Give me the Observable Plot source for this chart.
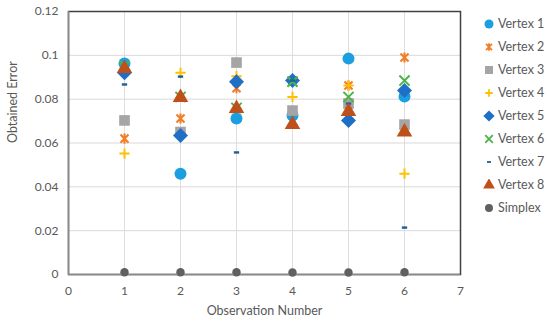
<!DOCTYPE html>
<html>
<head>
<meta charset="utf-8">
<script src="https://cdn.jsdelivr.net/npm/d3@7"></script>
<script src="https://cdn.jsdelivr.net/npm/@observablehq/plot@0.6"></script>
<style>
  html, body { margin: 0; padding: 0; background: #fff; }
  #wrap { position: relative; width: 550px; height: 324px; font-family: Lato, "Open Sans", sans-serif; }
  #legend { position: absolute; left: 483px; top: 12px; font-size: 12.5px; color: #595959; }
  .li { display: flex; align-items: center; height: 23px; }
  .li svg { width: 12px; height: 12px; margin-right: 3px; }
</style>
</head>
<body>
<div id="wrap"><div id="chart"></div><div id="legend"></div></div>
<script>
const observations = [1, 2, 3, 4, 5, 6];
const vertex1 = [0.0963, 0.0460, 0.0712, 0.0725, 0.0985, 0.0812];
const vertex2 = [0.0620, 0.0712, 0.0850, 0.0885, 0.0862, 0.0990];
const vertex3 = [0.0703, 0.0650, 0.0967, 0.0748, 0.0780, 0.0684];
const vertex4 = [0.0552, 0.0920, 0.0905, 0.0810, 0.0862, 0.0460];
const vertex5 = [0.0920, 0.0634, 0.0880, 0.0885, 0.0703, 0.0840];
const vertex6 = [0.0950, 0.0810, 0.0760, 0.0880, 0.0810, 0.0885];
const vertex7 = [0.0867, 0.0903, 0.0557, 0.0885, 0.0780, 0.0214];
const vertex8 = [0.0940, 0.0808, 0.0757, 0.0684, 0.0744, 0.0650];
const simplex = [0.0010, 0.0010, 0.0010, 0.0009, 0.0009, 0.0010];
const seriesNames = ["Vertex 1", "Vertex 2", "Vertex 3", "Vertex 4", "Vertex 5", "Vertex 6", "Vertex 7", "Vertex 8", "Simplex"];
const yTicks = [0, 0.02, 0.04, 0.06, 0.08, 0.1, 0.12];
const yTickLabels = ["0", "0.02", "0.04", "0.06", "0.08", "0.1", "0.12"];
const xTicks = [0, 1, 2, 3, 4, 5, 6, 7];

const dash = { draw(ctx, size) { const w = Math.sqrt(size) * 0.6, h = w * 0.45; ctx.rect(-w / 2, -h / 2, w, h); } };
const diamondSq = { draw(ctx, size) { const s = Math.sqrt(size) / Math.SQRT2 * 1.15; ctx.moveTo(0, -s); ctx.lineTo(s, 0); ctx.lineTo(0, s); ctx.lineTo(-s, 0); ctx.closePath(); } };
const star = { draw(ctx, size) { const r = Math.sqrt(size) * 0.59, d = r * 0.8; ctx.moveTo(0, -r); ctx.lineTo(0, r); ctx.moveTo(-d, -d); ctx.lineTo(d, d); ctx.moveTo(-d, d); ctx.lineTo(d, -d); } };

const styles = [
  { values: vertex1, symbol: "circle", fill: "#1c9fe0", r: 6 },
  { values: vertex2, symbol: star, stroke: "#f47d27", r: 4.8, sw: 2.1 },
  { values: vertex3, symbol: "square", fill: "#a5a5a5", r: 6 },
  { values: vertex4, symbol: "plus", stroke: "#ffc000", r: 3.4, sw: 2 },
  { values: vertex5, symbol: diamondSq, fill: "#1f6fc6", r: 5.2 },
  { values: vertex6, symbol: "times", stroke: "#4cb447", r: 4.7, sw: 2 },
  { values: vertex7, symbol: dash, fill: "#1e5d96", r: 5 },
  { values: vertex8, symbol: "triangle", fill: "#c0501a", r: 5.8 },
  { values: simplex, symbol: "circle", fill: "#606060", r: 4.2 }
];

const marks = [
  Plot.gridX(xTicks, { stroke: "#dedede", strokeOpacity: 1 }),
  Plot.gridY(yTicks, { stroke: "#d9d9d9", strokeOpacity: 1 }),
  Plot.frame({ stroke: "#404040", strokeWidth: 1.5 }),
  Plot.ruleX([0], { stroke: "#8c8c8c", strokeWidth: 1.5 }),
  Plot.ruleY([0], { stroke: "#8c8c8c", strokeWidth: 1.5 }),
  Plot.axisY(yTicks, { tickSize: 0, tickPadding: 10, tickFormat: (d, i) => yTickLabels[i], fontSize: 12, fill: "#595959", label: null }),
  Plot.axisX(xTicks, { tickSize: 0, tickPadding: 12, fontSize: 12, fill: "#595959", label: null }),
  Plot.text(["Obtained Error"], { frameAnchor: "left", dx: -56, rotate: -90, fontSize: 12.5, fill: "#595959" }),
  Plot.text(["Observation Number"], { frameAnchor: "bottom", dy: 40, fontSize: 12.5, fill: "#595959" })
];

styles.forEach(s => {
  const data = observations.map((x, i) => ({ x, y: s.values[i] }));
  marks.push(Plot.dot(data, {
    x: "x", y: "y", symbol: () => s.symbol, r: s.r,
    fill: s.fill || "none", stroke: s.stroke || "none",
    strokeWidth: s.sw || 0
  }));
});

const chart = Plot.plot({
  width: 550, height: 324,
  marginLeft: 68, marginRight: 90, marginTop: 11, marginBottom: 50,
  style: { fontFamily: "Lato, 'Open Sans', sans-serif", background: "#fff" },
  x: { domain: [0, 7], axis: null },
  y: { domain: [0, 0.12], axis: null },
  symbol: { type: "identity" },
  marks
});
document.getElementById("chart").appendChild(chart);

// legend
const d3sym = {
  circle: d3.symbolCircle, square: d3.symbolSquare,
  plus: d3.symbolPlus, times: d3.symbolTimes, triangle: d3.symbolTriangle
};
const leg = d3.select("#legend");
styles.forEach((s, i) => {
  const row = leg.append("div").attr("class", "li");
  const svg = row.append("svg").attr("viewBox", "-6 -6 12 12");
  const typ = typeof s.symbol === "string" ? d3sym[s.symbol] : s.symbol;
  const r = s.r * (i === 8 ? 0.95 : 0.75);
  svg.append("path")
    .attr("d", d3.symbol(typ, Math.PI * r * r)())
    .attr("fill", s.fill || "none")
    .attr("stroke", s.stroke || "none")
    .attr("stroke-width", s.sw ? 1.8 : 0);
  row.append("span").text(seriesNames[i]);
});
</script>
</body>
</html>
